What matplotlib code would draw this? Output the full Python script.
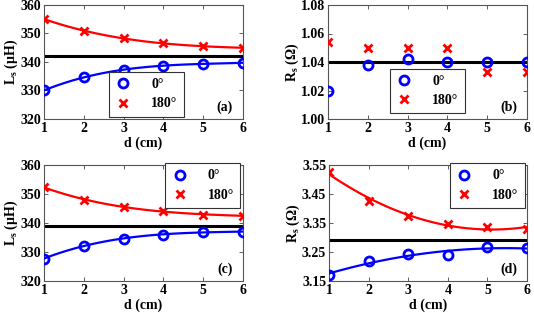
import numpy as np
import matplotlib
matplotlib.use("Agg")
import matplotlib.pyplot as plt

d = [1, 2, 3, 4, 5, 6]

# (a) Ls
a_0 = [330.0, 334.7, 337.2, 338.7, 339.4, 339.7]
a_180 = [355.1, 350.9, 348.4, 346.5, 345.5, 345.0]
a_ref = 342.0
# (b) Rs
b_0 = [1.020, 1.038, 1.042, 1.040, 1.040, 1.040]
b_180 = [1.054, 1.050, 1.050, 1.050, 1.033, 1.033]
b_ref = 1.040
# (c) Ls
c_0 = [327.7, 332.2, 334.6, 336.0, 336.9, 337.0]
c_180 = [352.3, 348.1, 345.6, 344.0, 342.9, 342.5]
c_ref = 339.0
# (d) Rs
d_0 = [3.171, 3.218, 3.244, 3.239, 3.267, 3.263]
d_180 = [3.525, 3.426, 3.375, 3.345, 3.337, 3.330]
d_ref = 3.29

legend_labels = ["0°", "180°"]

plt.rcParams['font.family'] = ['Liberation Serif', 'DejaVu Serif']
plt.rcParams['font.weight'] = 'bold'
plt.rcParams['axes.labelweight'] = 'bold'
plt.rcParams['mathtext.fontset'] = 'custom'
plt.rcParams['mathtext.rm'] = 'Liberation Serif:bold'
plt.rcParams['mathtext.it'] = 'Liberation Serif:bold'
plt.rcParams['mathtext.bf'] = 'Liberation Serif:bold'

W, H = 534, 313
fig = plt.figure(figsize=(W / 100, H / 100), dpi=100)


def ax_at(l, t, r, b):
    return fig.add_axes([l / W, 1 - b / H, (r - l) / W, (b - t) / H])


def panel(ax, y0, y180, ref, ylim, yticks, yfmt, ylabel, tag, deg, legend_loc):
    ax.axhline(ref, color='black', lw=2.2, zorder=2)
    xs = np.linspace(1, 6, 100)
    if deg:
        p0 = np.polyfit(d, y0, deg)
        p1 = np.polyfit(d, y180, deg)
        ax.plot(xs, np.polyval(p0, xs), color='#0000ff', lw=1.6, zorder=3)
        ax.plot(xs, np.polyval(p1, xs), color='#ff0000', lw=1.6, zorder=3)
    ax.plot(d, y0, 'o', mfc='none', mec='#0000ff', mew=2.0, ms=6.5, ls='none',
            label=legend_labels[0], zorder=4)
    ax.plot(d, y180, 'x', color='#ff0000', mew=2.0, ms=6, ls='none',
            label=legend_labels[1], zorder=4)
    ax.set_xlim(1, 6)
    ax.set_ylim(*ylim)
    ax.set_xticks(d)
    ax.set_yticks(yticks)
    ax.set_yticklabels([yfmt.format(v) for v in yticks])
    ax.tick_params(direction='in', top=True, right=True, labelsize=10,
                   length=3, width=0.6, color='#444444', pad=2)
    for s in ax.spines.values():
        s.set_color('#555555')
        s.set_linewidth(0.8)
    ax.set_xlabel('d (cm)', fontsize=10, labelpad=1)
    ax.set_ylabel(ylabel, fontsize=10, labelpad=0)
    ax.text(0.95, 0.1, tag, transform=ax.transAxes, ha='right', va='center',
            fontsize=10, fontweight='bold')
    leg = ax.legend(loc=legend_loc, fontsize=10, frameon=True, fancybox=False,
                    edgecolor='#333333', framealpha=1, handlelength=1.2,
                    handletextpad=1.4, borderpad=0.45, labelspacing=0.45,
                    borderaxespad=0.0, bbox_transform=ax.transAxes)
    leg.get_frame().set_linewidth(0.8)
    return ax


ax_a = ax_at(44, 5, 243, 119)
panel(ax_a, a_0, a_180, a_ref, (320, 360), [320, 330, 340, 350, 360], '{:.0f}',
      r'L$_\mathrm{s}$ ($\mu$H)', '(a)', 3, (0.325, 0.02))
ax_b = ax_at(328, 5, 527, 119)
panel(ax_b, b_0, b_180, b_ref, (1.00, 1.08), [1.00, 1.02, 1.04, 1.06, 1.08], '{:.2f}',
      r'R$_\mathrm{s}$ ($\Omega$)', '(b)', 0, (0.31, 0.05))
ax_c = ax_at(44, 165, 243, 281)
panel(ax_c, c_0, c_180, c_ref, (320, 360), [320, 330, 340, 350, 360], '{:.0f}',
      r'L$_\mathrm{s}$ ($\mu$H)', '(c)', 3, (0.61, 0.63))
ax_d = ax_at(329, 165, 527, 281)
panel(ax_d, d_0, d_180, d_ref, (3.15, 3.55), [3.15, 3.25, 3.35, 3.45, 3.55], '{:.2f}',
      r'R$_\mathrm{s}$ ($\Omega$)', '(d)', 2, (0.61, 0.63))

fig.savefig('out.png', dpi=100)
